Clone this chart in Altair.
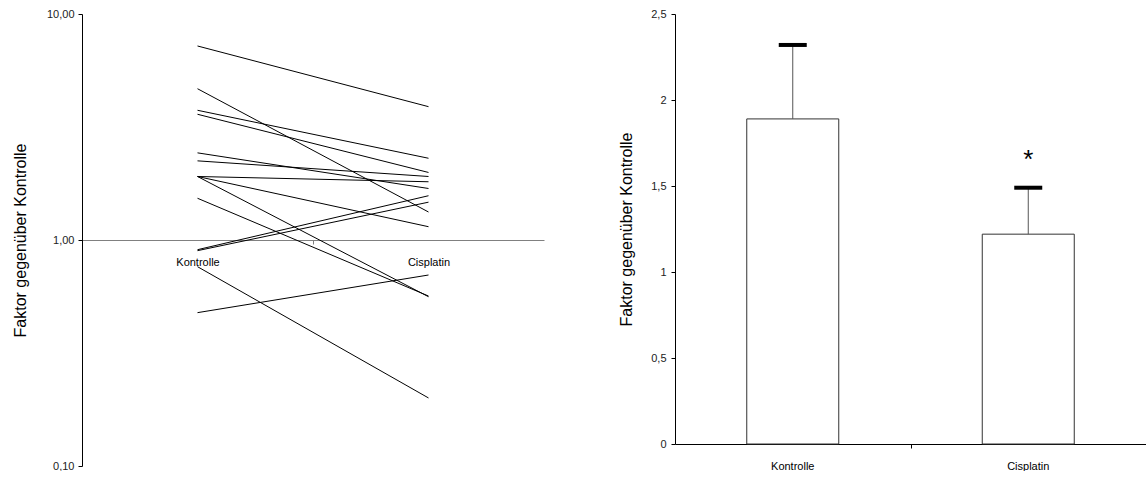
import altair as alt
import pandas as pd

FONT = "Liberation Sans"

gruppen = ["Kontrolle", "Cisplatin"]

# Einzelversuche: Faktor gegenüber Kontrolle, je Versuch ein Wertepaar
kontrolle_werte = [7.22, 4.67, 3.75, 3.60, 2.43, 2.24, 1.91, 1.91, 1.91, 1.53, 0.906, 0.897, 0.762, 0.477]
cisplatin_werte = [3.89, 1.33, 2.30, 1.99, 1.69, 1.91, 1.81, 1.145, 0.561, 0.565, 1.57, 1.47, 0.20, 0.70]

# Mittelwerte mit oberem Fehlerbalken
mittelwerte = [1.89, 1.22]
fehler_oben = [2.32, 1.49]
signifikanz = ["", "*"]

log_ticks = [0.1, 1, 10]
lin_ticks = [0, 0.5, 1, 1.5, 2, 2.5]
gruppen_grenze = [1]

titel = "Faktor gegenüber Kontrolle"
ohne_rahmen = alt.ViewBackground(stroke="transparent", strokeWidth=0)

# ---------- linkes Diagramm: Einzelverläufe, logarithmisch ----------
verlauf = pd.DataFrame({
    "versuch": [i for i in range(len(kontrolle_werte)) for _ in gruppen],
    "gruppe": gruppen * len(kontrolle_werte),
    "faktor": [v for pair in zip(kontrolle_werte, cisplatin_werte) for v in pair],
})

L_W, L_H = 462, 452
achse_bei_eins = -(L_H // 2)

linien = alt.Chart(verlauf).mark_line(color="black", strokeWidth=1).encode(
    x=alt.X("gruppe:N", sort=gruppen,
            scale=alt.Scale(type="point", padding=0.5),
            axis=alt.Axis(title=None, orient="bottom", offset=achse_bei_eins,
                          tickSize=0, labelPadding=16, labelAngle=0, grid=False,
                          labelFontSize=11, labelColor="black", labelFont=FONT,
                          domainColor="#808080", domainWidth=1)),
    y=alt.Y("faktor:Q",
            scale=alt.Scale(type="log", domain=[0.1, 10], nice=False),
            axis=alt.Axis(values=log_ticks, grid=False,
                          labelExpr="replace(format(datum.value, '.2f'), '.', ',')",
                          tickSize=4, tickColor="black", domainColor="black",
                          labelPadding=4, labelFontSize=11, labelColor="#222", labelFont=FONT,
                          title=titel, titleFont=FONT, titleFontSize=16,
                          titleFontWeight="normal", titleColor="black",
                          titleX=-62, titleY=L_H / 2, titleBaseline="middle")),
    detail="versuch:N",
)

grenze_links = alt.Chart(pd.DataFrame({"grenze": gruppen_grenze})).mark_point(opacity=0).encode(
    x=alt.X("grenze:Q", scale=alt.Scale(domain=[0, 2], nice=False),
            axis=alt.Axis(orient="bottom", offset=achse_bei_eins, values=gruppen_grenze,
                          labels=False, domain=False, grid=False, tickSize=4,
                          tickColor="#808080", title=None)),
)

links = alt.layer(linien, grenze_links).resolve_scale(x="independent").properties(
    width=L_W, height=L_H, view=ohne_rahmen)

# ---------- rechtes Diagramm: Mittelwerte ----------
balken_df = pd.DataFrame({
    "gruppe": gruppen,
    "mittelwert": mittelwerte,
    "fehler": fehler_oben,
    "stern": signifikanz,
})

R_W, R_H = 471, 430

x_r = alt.X("gruppe:N", sort=gruppen,
            scale=alt.Scale(paddingInner=0, paddingOuter=0),
            axis=alt.Axis(title=None, labelAngle=0, tickSize=0, labelPadding=16, grid=False,
                          labelFontSize=11, labelColor="black", labelFont=FONT,
                          domainColor="black"))

basis = alt.Chart(balken_df)

balken = basis.mark_bar(size=92, fill="white", stroke="#333", strokeWidth=1).encode(
    x=x_r,
    y=alt.Y("mittelwert:Q", scale=alt.Scale(domain=[0, 2.5], nice=False),
            axis=alt.Axis(values=lin_ticks, grid=False, format=".1~f",
                          labelExpr="replace(datum.label, '.', ',')",
                          tickSize=4, tickColor="black", domainColor="black",
                          labelPadding=5, labelFontSize=11, labelColor="#222", labelFont=FONT,
                          title=titel, titleFont=FONT, titleFontSize=16,
                          titleFontWeight="normal", titleColor="black",
                          titleX=-49, titleY=R_H / 2, titleBaseline="middle")),
)

fehlerlinie = basis.mark_rule(color="#555", strokeWidth=1).encode(
    x=x_r, y="mittelwert:Q", y2="fehler:Q")

kappe = basis.mark_tick(color="black", opacity=1, thickness=4, size=28).encode(
    x=x_r, y="fehler:Q")

stern = basis.mark_text(fontSize=26, font=FONT, dy=-28, baseline="middle").encode(
    x=x_r, y="fehler:Q", text="stern:N")

balkengruppe = alt.layer(balken, fehlerlinie, kappe, stern)

grenze_rechts = alt.Chart(pd.DataFrame({"grenze": gruppen_grenze})).mark_point(opacity=0).encode(
    x=alt.X("grenze:Q", scale=alt.Scale(domain=[0, 2], nice=False),
            axis=alt.Axis(orient="bottom", values=gruppen_grenze, labels=False,
                          domain=False, grid=False, tickSize=4, tickColor="black",
                          title=None)),
)

rechts = alt.layer(balkengruppe, grenze_rechts).resolve_scale(
    x="independent").properties(width=R_W, height=R_H, view=ohne_rahmen)

chart = alt.hconcat(links, rechts, spacing=131, bounds="flush").properties(
    padding={"left": 12, "top": 3, "right": 0, "bottom": 0},
).configure_view(stroke="transparent", strokeWidth=0).configure_axis(grid=False).configure(
    background="white")

chart.save("out.html", embed_options={"renderer": "svg", "actions": False})
